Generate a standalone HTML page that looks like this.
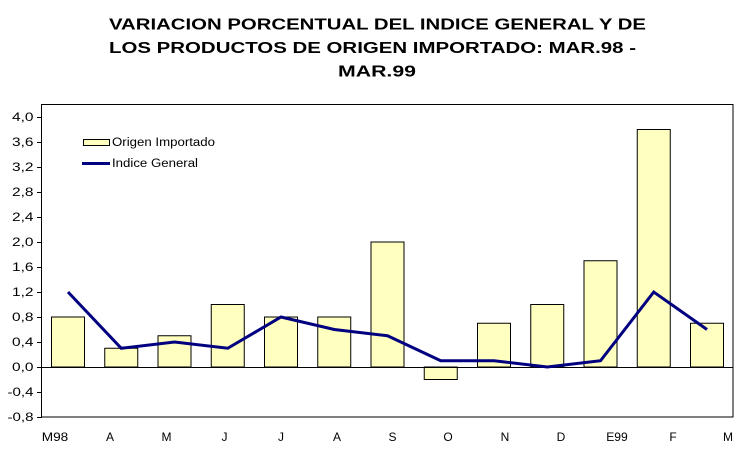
<!DOCTYPE html>
<html><head><meta charset="utf-8"><style>
html,body{margin:0;padding:0;background:#fff;}
svg{display:block;}
text{font-family:"Liberation Sans",Arial,sans-serif;fill:#000;}
</style></head><body>
<svg width="738" height="462" viewBox="0 0 738 462" xmlns="http://www.w3.org/2000/svg">
<rect width="738" height="462" fill="#fff"/>
<!-- title -->
<text x="109" y="29.5" font-size="16" font-weight="bold" textLength="537" lengthAdjust="spacingAndGlyphs">VARIACION PORCENTUAL DEL INDICE GENERAL Y DE</text>
<text x="109" y="53" font-size="16" font-weight="bold" textLength="527" lengthAdjust="spacingAndGlyphs">LOS PRODUCTOS DE ORIGEN IMPORTADO: MAR.98 -</text>
<text x="338" y="76.5" font-size="16" font-weight="bold" textLength="78" lengthAdjust="spacingAndGlyphs">MAR.99</text>

<!-- plot frame -->
<rect x="41.5" y="104.5" width="691.5" height="312.5" fill="none" stroke="#000" stroke-width="1"/>

<!-- y ticks and labels -->
<g stroke="#000" stroke-width="1">
<line x1="37" y1="117.5" x2="42" y2="117.5"/>
<line x1="37" y1="142.5" x2="42" y2="142.5"/>
<line x1="37" y1="167.5" x2="42" y2="167.5"/>
<line x1="37" y1="192.5" x2="42" y2="192.5"/>
<line x1="37" y1="217.5" x2="42" y2="217.5"/>
<line x1="37" y1="242.5" x2="42" y2="242.5"/>
<line x1="37" y1="267.5" x2="42" y2="267.5"/>
<line x1="37" y1="292.5" x2="42" y2="292.5"/>
<line x1="37" y1="317.5" x2="42" y2="317.5"/>
<line x1="37" y1="342.5" x2="42" y2="342.5"/>
<line x1="37" y1="367.5" x2="42" y2="367.5"/>
<line x1="37" y1="392.5" x2="42" y2="392.5"/>
<line x1="37" y1="417.5" x2="42" y2="417.5"/>
</g>
<g font-size="11.5">
<text x="12" y="121" textLength="21.5" lengthAdjust="spacingAndGlyphs">4,0</text>
<text x="12" y="146" textLength="21.5" lengthAdjust="spacingAndGlyphs">3,6</text>
<text x="12" y="171" textLength="21.5" lengthAdjust="spacingAndGlyphs">3,2</text>
<text x="12" y="196" textLength="21.5" lengthAdjust="spacingAndGlyphs">2,8</text>
<text x="12" y="221" textLength="21.5" lengthAdjust="spacingAndGlyphs">2,4</text>
<text x="12" y="246" textLength="21.5" lengthAdjust="spacingAndGlyphs">2,0</text>
<text x="12" y="271" textLength="21.5" lengthAdjust="spacingAndGlyphs">1,6</text>
<text x="12" y="296" textLength="21.5" lengthAdjust="spacingAndGlyphs">1,2</text>
<text x="12" y="321" textLength="21.5" lengthAdjust="spacingAndGlyphs">0,8</text>
<text x="12" y="346" textLength="21.5" lengthAdjust="spacingAndGlyphs">0,4</text>
<text x="12" y="371" textLength="21.5" lengthAdjust="spacingAndGlyphs">0,0</text>
<text x="7.5" y="396" textLength="26" lengthAdjust="spacingAndGlyphs">-0,4</text>
<text x="7.5" y="421" textLength="26" lengthAdjust="spacingAndGlyphs">-0,8</text>
</g>

<!-- bars -->
<g fill="#FFFFC0" stroke="#000" stroke-width="1">
<rect x="51.5" y="317" width="33" height="50"/>
<rect x="104.75" y="348.25" width="33" height="18.75"/>
<rect x="158" y="335.75" width="33" height="31.25"/>
<rect x="211.25" y="304.5" width="33" height="62.5"/>
<rect x="264.5" y="317" width="33" height="50"/>
<rect x="317.75" y="317" width="33" height="50"/>
<rect x="371" y="242" width="33" height="125"/>
<rect x="424.25" y="367" width="33" height="12.5"/>
<rect x="477.5" y="323.25" width="33" height="43.75"/>
<rect x="530.75" y="304.5" width="33" height="62.5"/>
<rect x="584" y="260.75" width="33" height="106.25"/>
<rect x="637.25" y="129.5" width="33" height="237.5"/>
<rect x="690.5" y="323.25" width="33" height="43.75"/>
</g>

<!-- zero line -->
<line x1="42" y1="367.5" x2="733" y2="367.5" stroke="#000" stroke-width="1"/>

<!-- line series -->
<polyline fill="none" stroke="#000080" stroke-width="3" stroke-linejoin="miter"
points="68,292 121.25,348.25 174.5,342 227.75,348.25 281,317 334.25,329.5 387.5,335.75 440.75,360.75 494,360.75 547.25,367 600.5,360.75 653.75,292 707,329.5"/>

<!-- x labels -->
<g font-size="12" text-anchor="middle">
<text x="55" y="441" textLength="26.5" lengthAdjust="spacingAndGlyphs">M98</text>
<text x="110" y="441">A</text>
<text x="166.5" y="441">M</text>
<text x="224.5" y="441">J</text>
<text x="281" y="441">J</text>
<text x="337" y="441">A</text>
<text x="392.5" y="441">S</text>
<text x="448" y="441">O</text>
<text x="505" y="441">N</text>
<text x="561" y="441">D</text>
<text x="617" y="441" textLength="21.5" lengthAdjust="spacingAndGlyphs">E99</text>
<text x="673" y="441">F</text>
<text x="728" y="441">M</text>
</g>

<!-- legend -->
<rect x="83.5" y="139.5" width="26" height="6" fill="#FFFFC0" stroke="#000" stroke-width="1"/>
<text x="112" y="146" font-size="11.5" textLength="103" lengthAdjust="spacingAndGlyphs">Origen Importado</text>
<line x1="82" y1="163.5" x2="110" y2="163.5" stroke="#000080" stroke-width="3"/>
<text x="112" y="167" font-size="11.5" textLength="86" lengthAdjust="spacingAndGlyphs">Indice General</text>
</svg>
</body></html>
